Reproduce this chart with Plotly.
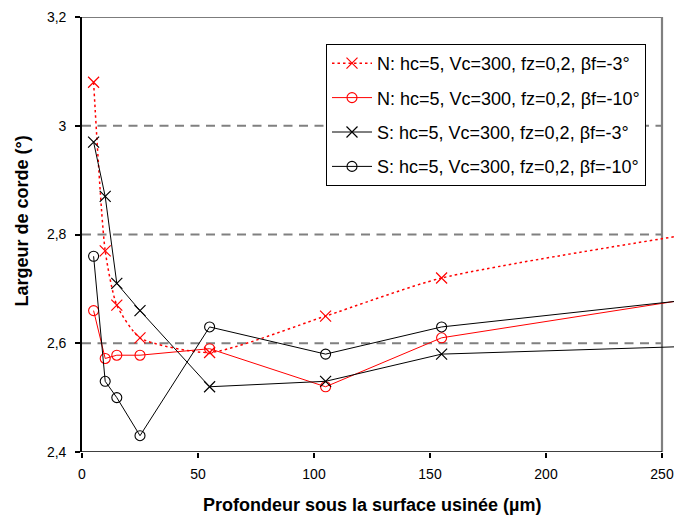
import plotly.graph_objects as go

# ---- data ----
depth = [5, 10, 15, 25, 55, 105, 155, 305]  # last point lies beyond the visible 0-250 window
n_m3 = [3.08, 2.77, 2.67, 2.61, 2.583, 2.65, 2.72, 2.83]
n_m10 = [2.66, 2.572, 2.578, 2.578, 2.59, 2.52, 2.61, 2.71]
s_m3 = [2.97, 2.87, 2.71, 2.66, 2.52, 2.53, 2.58, 2.60]
s_m10 = [2.76, 2.53, 2.50, 2.43, 2.63, 2.58, 2.63, 2.70]

names = [
    "N: hc=5, Vc=300, fz=0,2, βf=-3°",
    "N: hc=5, Vc=300, fz=0,2, βf=-10°",
    "S: hc=5, Vc=300, fz=0,2, βf=-3°",
    "S: hc=5, Vc=300, fz=0,2, βf=-10°",
]
y_ticks = [2.4, 2.6, 2.8, 3.0, 3.2]
y_ticktext = ["2,4", "2,6", "2,8", "3", "3,2"]
x_ticks = [0, 50, 100, 150, 200, 250]
grid_levels = [2.6, 2.8, 3.0]
x_title = "Profondeur sous la surface usinée (µm)"
y_title = "Largeur de corde (°)"

FONT = "Arial, Liberation Sans, sans-serif"
RED = "#FF0000"
BLACK = "#000000"
GRAY = "#808080"

W, H = 674, 519
L, T, B = 82, 17, 67
PW = W - L           # plot width in px (592)
PH = H - T - B       # plot height in px (435)

fig = go.Figure()

fig.add_trace(go.Scatter(
    x=depth, y=n_m3, name=names[0], mode="lines+markers", legendgroup="a",
    line=dict(color=RED, width=1.5, dash="2.5px,3px", shape="spline", smoothing=0.6),
    marker=dict(symbol="x-thin-open", size=11, color=RED, line=dict(color=RED, width=1.2)),
))
fig.add_trace(go.Scatter(
    x=depth, y=n_m10, name=names[1], mode="lines+markers", legendgroup="b",
    line=dict(color=RED, width=1),
    marker=dict(symbol="circle-open", size=10, color=RED, line=dict(color=RED, width=1.1)),
))
fig.add_trace(go.Scatter(
    x=depth, y=s_m3, name=names[2], mode="lines+markers", legendgroup="c",
    line=dict(color=BLACK, width=1),
    marker=dict(symbol="x-thin-open", size=11, color=BLACK, line=dict(color=BLACK, width=1.2)),
))
fig.add_trace(go.Scatter(
    x=depth, y=s_m10, name=names[3], mode="lines+markers", legendgroup="d",
    line=dict(color=BLACK, width=1),
    marker=dict(symbol="circle-open", size=10, color=BLACK, line=dict(color=BLACK, width=1.1)),
))

shapes = []
for g in grid_levels:
    shapes.append(dict(type="line", xref="x", yref="y", x0=0, x1=250, y0=g, y1=g,
                       line=dict(color=GRAY, width=1.8, dash="9px,6.5px"), layer="below"))
# plot-area border (top and right)
shapes.append(dict(type="line", xref="x", yref="y", x0=0, x1=250, y0=3.2, y1=3.2,
                   line=dict(color="#505050", width=1.5), layer="below"))
shapes.append(dict(type="line", xref="x", yref="y", x0=250, x1=250, y0=2.4, y1=3.2,
                   line=dict(color=GRAY, width=2.2), layer="below"))
# x axis line
shapes.append(dict(type="line", xref="x", yref="y", x0=0, x1=250, y0=2.4, y1=2.4,
                   line=dict(color=BLACK, width=1.6), layer="above"))

XMAX = 250 * PW / 580

fig.update_layout(
    width=W, height=H,
    margin=dict(l=L, r=0, t=T, b=B, pad=0),
    paper_bgcolor="white", plot_bgcolor="white",
    separators=",.",
    font=dict(family=FONT, color=BLACK, size=14),
    showlegend=True,
    legend=dict(
        x=(326 - L) / PW, y=(452 - 44) / PH, xanchor="left", yanchor="top",
        bgcolor="white", bordercolor=BLACK, borderwidth=1,
        font=dict(family=FONT, size=18, color=BLACK),
        itemwidth=40, tracegroupgap=8,
    ),
    xaxis=dict(
        range=[0, XMAX], tickvals=x_ticks, showgrid=False, zeroline=False,
        showline=False, ticks="outside", ticklen=5, tickwidth=1.5, tickcolor=BLACK,
        tickfont=dict(family=FONT, size=14, color=BLACK), ticklabelstandoff=4,
        ticklabeloverflow="allow",
    ),
    yaxis=dict(
        range=[2.4, 3.2], tickvals=y_ticks, ticktext=y_ticktext, showgrid=False,
        zeroline=False, showline=True, linecolor=BLACK, linewidth=1.6,
        ticks="outside", ticklen=5, tickwidth=1.5, tickcolor=BLACK,
        tickfont=dict(family=FONT, size=14, color=BLACK), ticklabelstandoff=6,
    ),
    shapes=shapes,
    annotations=[
        dict(text="<b>" + x_title + "</b>", xref="x", yref="paper", x=125,
             y=(452 - 505) / PH, xanchor="center", yanchor="middle", showarrow=False,
             font=dict(family=FONT, size=18, color=BLACK)),
        dict(text="<b>" + y_title + "</b>", xref="paper", yref="paper",
             x=(21 - L) / PW, y=(452 - 221.5) / PH, xanchor="center", yanchor="middle",
             textangle=-90, showarrow=False, font=dict(family=FONT, size=18, color=BLACK)),
    ],
)

# remove the default body margin so the 674x519 figure fills the window exactly
fig.write_html(
    "out.html",
    config={"displayModeBar": False},
    post_script="document.body.style.margin='0';document.body.style.overflow='hidden';",
)
